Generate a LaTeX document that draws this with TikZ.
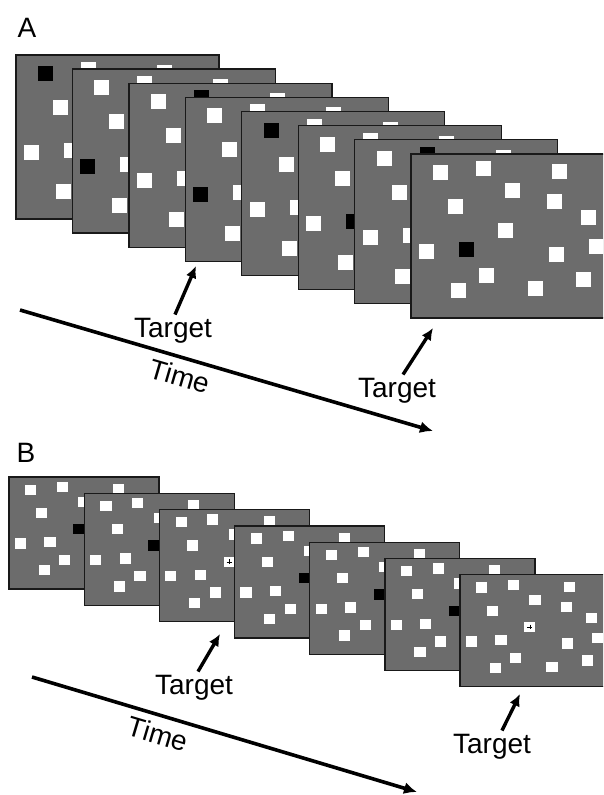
\documentclass[tikz,border=0pt]{standalone}
\usepackage{fontspec}
\setmainfont{Liberation Sans}
\usetikzlibrary{arrows.meta}

\definecolor{screengray}{RGB}{108,108,108}
\definecolor{edgegray}{RGB}{25,25,25}

\tikzset{
  screen/.style={fill=screengray,draw=edgegray,line width=1.3pt},
  tag/.style={font=\fontsize{28}{32}\selectfont,inner sep=3pt},
  timetag/.style={tag,inner sep=0pt},
  timeline/.style={line width=3.6pt,-{Latex[length=13pt,width=12pt]}},
  pointer/.style={line width=3.4pt,-{Latex[length=12pt,width=11pt]}},
}

% top-left corners of the squares on a large screen (203 x 164)
\newcommand{\dotslots}{22/11,65/7,141/10,94/29,37/45,136/40,170/56,87/69,
  8/90,48/88,138/93,178/85,68/114,165/118,40/129,117/127}

% \drawscreen{left}{top}{xscale}{yscale}{black slot}{cross slot}
\newcommand{\drawscreen}[6]{%
  \begin{scope}[shift={(#1,#2)},xscale=#3,yscale=#4]
    \draw[screen] (0,0) rectangle (203,164);
    \foreach \sx/\sy [count=\i] in \dotslots {
      \ifnum\i=#5 \def\sqcol{black}\else\def\sqcol{white}\fi
      \fill[\sqcol] (\sx,\sy) rectangle ++(15,15);
      \ifnum\i=#6
        \draw[line width=0.6pt] (\sx+7.5,\sy+4) -- (\sx+7.5,\sy+11)
          (\sx+4,\sy+7.5) -- (\sx+11,\sy+7.5);
      \fi
    }
  \end{scope}}

\begin{document}
\begin{tikzpicture}[x=1pt,y=-1pt]
  \useasboundingbox (0,0) rectangle (603,795);
  \clip (0,0) rectangle (603,795);

  % A
  \node[tag] (labA) at (27,28) {A};
  \foreach \b [count=\k from 0] in {1,9,2,9,1,10,2,10} {
    \drawscreen{16+56.43*\k}{55+14.14*\k}{1}{1}{\b}{0}
  }

  \coordinate (startA) at (20,310);
  \coordinate (endA) at (433,431);
  \draw[timeline] (startA) -- (endA);
  \node[timetag,rotate=-16.3] (timeA) at (180,376) {Time};

  \node[tag,anchor=base] (tgtA1) at (173,337) {Target};
  \node[tag,anchor=base] (tgtA2) at (397,397) {Target};
  \coordinate (hitA1) at (196,266);
  \coordinate (hitA2) at (433,328);
  \draw[pointer] ([xshift=2pt]tgtA1.north) -- (hitA1);
  \draw[pointer] ([xshift=6pt]tgtA2.north) -- (hitA2);

  % B
  \node[tag] (labB) at (26,453) {B};
  \foreach \b/\p [count=\k from 0] in {8/0,8/0,0/8,8/0,8/0,8/0,0/8} {
    \drawscreen{9+75.17*\k}{477+16.3*\k}{0.739}{0.683}{\b}{\p}
  }

  \coordinate (startB) at (32,677);
  \coordinate (endB) at (417,792);
  \draw[timeline] (startB) -- (endB);
  \node[timetag,rotate=-16.6] (timeB) at (158,734) {Time};

  \node[tag,anchor=base] (tgtB1) at (194,694) {Target};
  \node[tag,anchor=base] (tgtB2) at (492,753) {Target};
  \coordinate (hitB1) at (220,634);
  \coordinate (hitB2) at (520,694);
  \draw[pointer] ([xshift=4pt]tgtB1.north) -- (hitB1);
  \draw[pointer] ([xshift=10pt]tgtB2.north) -- (hitB2);
\end{tikzpicture}
\end{document}
